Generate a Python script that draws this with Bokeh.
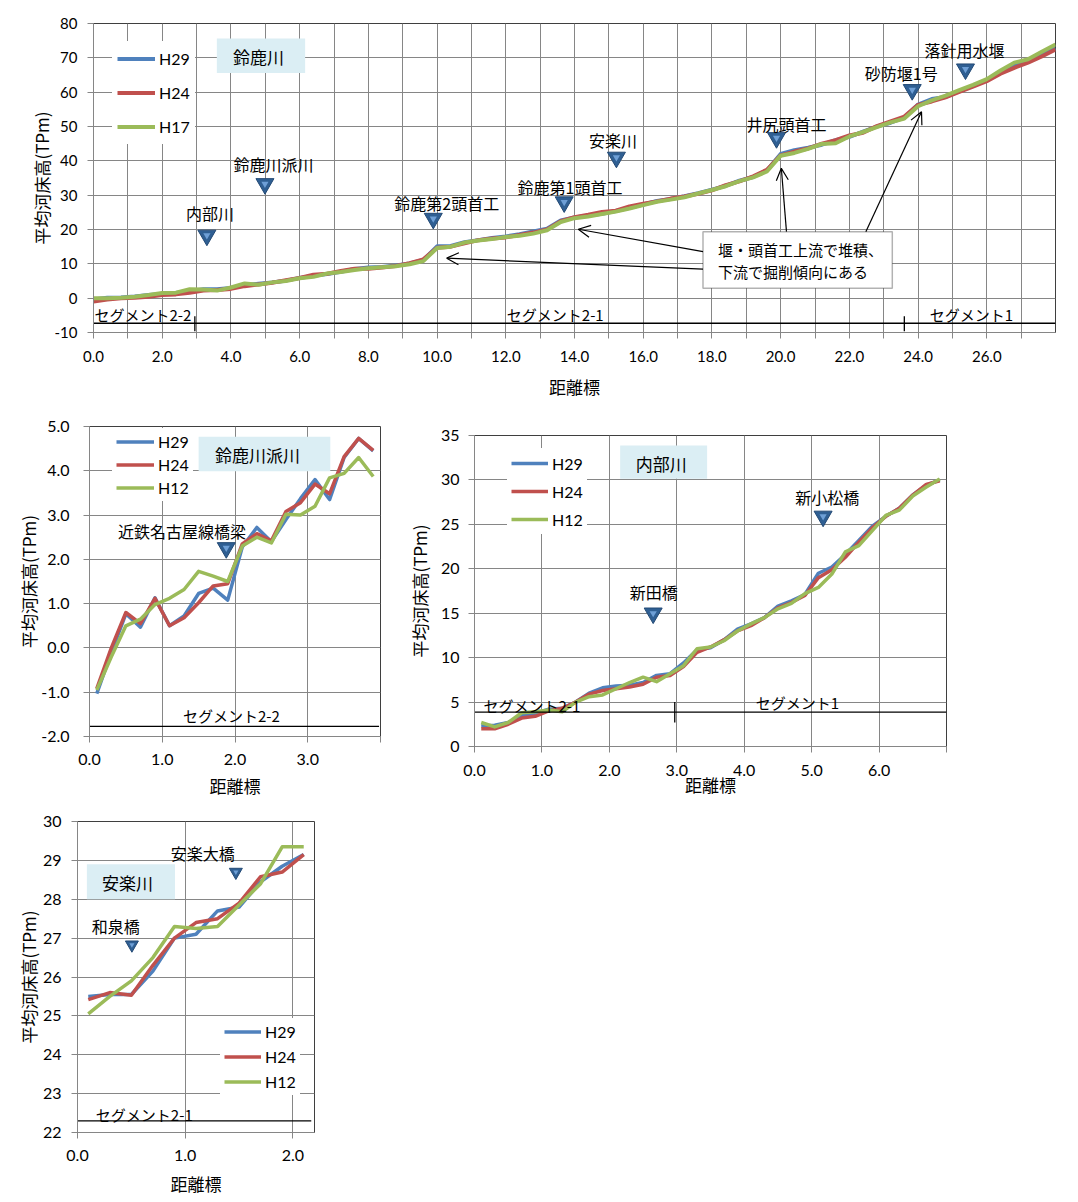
from bokeh.plotting import figure
from bokeh.models import (Range1d, FixedTicker, NumeralTickFormatter, Legend, LegendItem,
                          Label, BoxAnnotation, Arrow, OpenHead, Spacer)
from bokeh.layouts import column, row
from bokeh.embed import file_html
from bokeh.resources import INLINE

# ---------------- data ----------------
# 鈴鹿川 (main river)
suzuka_km = [
    0.0, 0.4, 0.8, 1.2, 1.6, 2.0, 2.4, 2.8, 3.2, 3.6,
    4.0, 4.4, 4.8, 5.2, 5.6, 6.0, 6.4, 6.8, 7.2, 7.6,
    8.0, 8.4, 8.8, 9.2, 9.6, 10.0, 10.4, 10.8, 11.2, 11.6,
    12.0, 12.4, 12.8, 13.2, 13.6, 14.0, 14.4, 14.8, 15.2, 15.6,
    16.0, 16.4, 16.8, 17.2, 17.6, 18.0, 18.4, 18.8, 19.2, 19.6,
    20.0, 20.4, 20.8, 21.2, 21.6, 22.0, 22.4, 22.8, 23.2, 23.6,
    24.0, 24.4, 24.8, 25.2, 25.6, 26.0, 26.4, 26.8, 27.2, 27.6,
    28.0]
suzuka_H29 = [
    -0.4, 0.1, 0.2, 0.5, 0.9, 1.2, 1.5, 2.0, 2.6, 2.6,
    3.0, 3.8, 4.2, 4.6, 5.1, 5.9, 6.5, 7.0, 7.7, 8.5,
    8.9, 9.1, 9.5, 10.1, 11.1, 15.1, 15.2, 16.3, 16.9, 17.5,
    18.0, 18.6, 19.4, 20.2, 22.6, 23.5, 24.1, 24.6, 25.4, 26.3,
    27.3, 28.3, 28.9, 29.7, 30.6, 31.6, 32.7, 34.2, 35.3, 37.2,
    42.0, 43.1, 43.8, 44.7, 46.0, 47.0, 48.5, 50.0, 51.1, 52.6,
    56.4, 58.0, 58.6, 60.3, 61.8, 63.5, 65.8, 67.6, 69.2, 70.9,
    72.8]
suzuka_H24 = [
    -1.0, -0.4, 0.0, 0.1, 0.4, 0.9, 1.1, 1.6, 2.2, 2.4,
    2.7, 3.5, 4.0, 4.5, 5.2, 5.9, 6.8, 7.1, 7.9, 8.6,
    8.6, 8.9, 9.4, 10.2, 11.3, 14.7, 15.0, 16.0, 16.9, 17.4,
    17.7, 18.4, 19.1, 20.0, 22.4, 23.6, 24.3, 25.1, 25.5, 26.7,
    27.5, 28.2, 29.0, 29.6, 30.4, 31.4, 32.9, 34.0, 35.5, 37.4,
    41.6, 42.7, 43.6, 45.0, 46.0, 47.4, 48.2, 50.1, 51.5, 52.9,
    56.3, 57.3, 58.5, 60.1, 61.6, 63.2, 65.4, 67.1, 68.6, 70.4,
    72.4]
suzuka_H17 = [
    0.0, 0.0, 0.1, 0.4, 0.9, 1.5, 1.6, 2.6, 2.5, 2.2,
    3.1, 4.3, 3.9, 4.6, 5.0, 5.8, 6.2, 7.2, 7.6, 8.2,
    8.7, 9.0, 9.3, 9.9, 10.8, 14.6, 15.0, 16.2, 16.8, 17.2,
    17.8, 18.2, 18.8, 19.8, 22.2, 23.3, 23.8, 24.5, 25.2, 26.1,
    27.1, 28.1, 28.7, 29.4, 30.5, 31.5, 32.6, 34.1, 35.2, 36.9,
    41.5, 42.3, 43.5, 44.9, 45.1, 47.1, 48.4, 49.8, 51.2, 52.3,
    55.9, 57.6, 59.0, 60.6, 62.1, 63.8, 66.3, 68.6, 69.6, 71.8,
    73.9]
suzuka_series = ["H29", "H24", "H17"]
suzuka_mark_names = ["内部川", "鈴鹿川派川", "鈴鹿第2頭首工", "鈴鹿第1頭首工",
                     "安楽川", "井尻頭首工", "砂防堰1号", "落針用水堰"]
suzuka_mark_km = [3.30, 4.99, 9.89, 13.70, 15.22, 19.88, 23.83, 25.38]
suzuka_mark_level = [18.3, 33.3, 23.2, 28.0, 41.0, 46.7, 60.7, 66.7]
suzuka_label_km = [3.39, 5.24, 10.28, 13.87, 15.12, 20.17, 23.51, 25.35]
suzuka_label_level = [24.7, 39.1, 27.6, 32.5, 46.1, 50.7, 65.5, 72.2]
suzuka_segments = ["セグメント2-2", "セグメント2-1", "セグメント1"]
suzuka_segment_km = [1.44, 13.44, 25.55]
suzuka_segment_bounds = [2.95, 23.6]

# 鈴鹿川派川
hasen_km = [0.1, 0.3, 0.5, 0.7, 0.9, 1.1, 1.3, 1.5, 1.7, 1.9,
            2.1, 2.3, 2.5, 2.7, 2.9, 3.1, 3.3, 3.5, 3.7, 3.9]
hasen_H29 = [-1.03, -0.10, 0.77, 0.47, 1.13, 0.50, 0.72, 1.23, 1.35, 1.08,
             2.28, 2.72, 2.40, 2.90, 3.37, 3.80, 3.35, 4.30, 4.73, 4.45]
hasen_H24 = [-0.92, 0.00, 0.80, 0.55, 1.12, 0.50, 0.68, 1.02, 1.40, 1.45,
             2.35, 2.58, 2.42, 3.08, 3.28, 3.70, 3.48, 4.32, 4.73, 4.46]
hasen_H12 = [-0.95, -0.20, 0.50, 0.65, 0.98, 1.12, 1.32, 1.73, 1.62, 1.50,
             2.30, 2.50, 2.37, 3.02, 3.00, 3.20, 3.84, 3.94, 4.30, 3.87]
hasen_mark_names = ["近鉄名古屋線橋梁"]
hasen_mark_km = [1.88]
hasen_mark_level = [2.26]

# 内部川
uchibe_km = [0.1, 0.3, 0.5, 0.7, 0.9, 1.1, 1.3, 1.5, 1.7, 1.9,
             2.1, 2.3, 2.5, 2.7, 2.9, 3.1, 3.3, 3.5, 3.7, 3.9,
             4.1, 4.3, 4.5, 4.7, 4.9, 5.1, 5.3, 5.5, 5.7, 5.9,
             6.1, 6.3, 6.5, 6.7, 6.9]
uchibe_H29 = [2.3, 2.4, 2.7, 3.5, 3.7, 4.2, 4.3, 5.0, 6.0, 6.6,
              6.8, 6.9, 7.2, 8.0, 8.2, 9.4, 10.9, 11.1, 12.0, 13.2,
              13.8, 14.5, 15.8, 16.4, 17.1, 19.5, 20.2, 21.6, 23.2, 24.8,
              25.9, 26.8, 28.3, 29.4, 30.0]
uchibe_H24 = [2.0, 2.0, 2.5, 3.2, 3.4, 4.0, 4.3, 5.0, 5.9, 6.3,
              6.5, 6.7, 7.0, 7.8, 8.0, 9.0, 10.6, 11.2, 12.0, 13.0,
              13.6, 14.5, 15.6, 16.2, 17.0, 19.0, 19.9, 21.3, 23.0, 24.6,
              25.9, 26.8, 28.3, 29.5, 29.9]
uchibe_H12 = [2.7, 2.2, 2.7, 3.8, 3.9, 4.1, 3.9, 5.0, 5.6, 5.8,
              6.5, 7.2, 7.8, 7.3, 8.2, 9.1, 11.0, 11.2, 11.9, 13.0,
              13.8, 14.5, 15.5, 16.1, 17.2, 17.9, 19.4, 21.9, 22.6, 24.3,
              26.0, 26.6, 28.2, 29.2, 30.1]
uchibe_mark_names = ["新田橋", "新小松橋"]
uchibe_mark_km = [2.65, 5.17]
uchibe_mark_level = [15.0, 25.9]
uchibe_label_km = [2.66, 5.23]
uchibe_label_level = [17.4, 28.1]

# 安楽川
anraku_km = [0.1, 0.3, 0.5, 0.7, 0.9, 1.1, 1.3, 1.5, 1.7, 1.9, 2.1]
anraku_H29 = [25.50, 25.55, 25.55, 26.15, 27.00, 27.10, 27.70, 27.80, 28.45, 28.85, 29.15]
anraku_H24 = [25.42, 25.60, 25.53, 26.30, 27.00, 27.40, 27.50, 27.90, 28.58, 28.70, 29.15]
anraku_H12 = [25.05, 25.50, 25.90, 26.50, 27.30, 27.25, 27.30, 27.85, 28.40, 29.35, 29.35]
anraku_mark_names = ["和泉橋", "安楽大橋"]
anraku_mark_km = [0.505, 1.47]
anraku_mark_level = [26.83, 28.70]
anraku_label_km = [0.356, 1.163]
anraku_label_level = [27.32, 29.20]

sub_series = ["H29", "H24", "H12"]

# ---------------- styles ----------------
BLUE, RED, GREEN = "#4F81BD", "#C0504D", "#9BBB59"
GRID = "#868686"
JP = "Noto Sans CJK JP"
NUM = "Lato"
BOXBLUE = "#DBEEF4"


def make_panel(frame_w, frame_h, borders, x_range, y_range, x_ticks, x_minor, x_grid,
               y_ticks, x_fmt, y_fmt, tick_px, label_px, xstand, ystand):
    bl, br, bt, bb = borders
    p = figure(frame_width=frame_w, frame_height=frame_h,
               x_range=Range1d(*x_range), y_range=Range1d(*y_range),
               output_backend="svg", toolbar_location=None,
               min_border_left=bl, min_border_right=br,
               min_border_top=bt, min_border_bottom=bb)
    p.outline_line_color = "#3F3F3F"
    p.outline_line_width = 1
    p.background_fill_color = "white"
    p.border_fill_color = "white"
    xa, ya = p.xaxis[0], p.yaxis[0]
    xa.ticker = FixedTicker(ticks=x_ticks, minor_ticks=x_minor)
    ya.ticker = FixedTicker(ticks=y_ticks)
    xa.formatter = NumeralTickFormatter(format=x_fmt)
    ya.formatter = NumeralTickFormatter(format=y_fmt)
    for ax in (xa, ya):
        ax.axis_line_color = GRID
        ax.major_tick_line_color = GRID
        ax.minor_tick_line_color = GRID
        ax.major_tick_in = 0
        ax.major_tick_out = 6
        ax.minor_tick_in = 0
        ax.minor_tick_out = 6
        ax.major_label_text_font = NUM
        ax.major_label_text_font_size = f"{tick_px}px"
        ax.major_label_text_color = "#000000"
        ax.axis_label_text_font = JP
        ax.axis_label_text_font_size = f"{label_px}px"
        ax.axis_label_text_font_style = "normal"
        ax.axis_label_text_color = "#000000"
    xa.major_label_standoff, xa.axis_label_standoff = xstand
    ya.major_label_standoff, ya.axis_label_standoff = ystand
    xa.axis_label = "距離標"
    ya.axis_label = "平均河床高(TPm)"
    p.xgrid.ticker = FixedTicker(ticks=x_grid)
    p.ygrid.ticker = FixedTicker(ticks=y_ticks)
    p.xgrid.grid_line_color = GRID
    p.ygrid.grid_line_color = GRID
    p.xgrid.grid_line_width = 1
    p.ygrid.grid_line_width = 1
    return p


def add_series(p, xs, ys_list, names, lw, legend_loc, glyph_w, item_h, spacing, pad, font_px):
    rs = []
    for ys, c in zip(ys_list, [BLUE, RED, GREEN]):
        rs.append(p.line(xs, ys, line_color=c, line_width=lw, line_join="round"))
    items = [LegendItem(label=n, renderers=[r]) for n, r in zip(names, rs)]
    lg = Legend(items=items, location=legend_loc, orientation="vertical",
                glyph_width=glyph_w, glyph_height=item_h, label_height=item_h,
                spacing=spacing, padding=pad, margin=0, label_standoff=4,
                label_text_font=NUM, label_text_font_size=f"{font_px}px",
                label_text_color="#000000",
                border_line_alpha=0, background_fill_color="white",
                background_fill_alpha=1.0)
    p.add_layout(lg)


def add_text(p, x, y, text, size, align="center"):
    p.add_layout(Label(x=x, y=y, text=text, text_font=JP, text_font_size=f"{size}px",
                       text_align=align, text_baseline="middle", text_color="#000000"))


def add_title_box(p, left, right, bottom, top, text, tx, ty, size):
    p.add_layout(BoxAnnotation(left=left, right=right, bottom=bottom, top=top,
                               fill_color=BOXBLUE, fill_alpha=1.0, line_alpha=0))
    add_text(p, tx, ty, text, size)


def add_marks(p, xs, ys, size):
    p.scatter(xs, ys, marker="inverted_triangle", size=size,
              fill_color="#2F5F93", line_color="#244A75", line_width=1)
    p.scatter(xs, ys, marker="inverted_triangle", size=size * 0.4,
              fill_color="#6E9FD6", line_alpha=0)


# ---------------- 鈴鹿川 ----------------
p1 = make_panel(962, 309, (93, 15, 23, 73), (0, 28), (-10, 80),
                list(range(0, 27, 2)), list(range(1, 29, 2)), list(range(0, 29)),
                list(range(-10, 81, 10)), "0.0", "0", 15, 17, (12, 9), (10, -2))
add_series(p1, suzuka_km, [suzuka_H29, suzuka_H24, suzuka_H17], suzuka_series, 4,
           (19, 188), 38, 25, 9, 5, 16)
add_title_box(p1, 3.59, 6.16, 65.6, 75.6, "鈴鹿川", 4.8, 70.5, 17)
add_marks(p1, suzuka_mark_km, suzuka_mark_level, 18)
for n, x, y in zip(suzuka_mark_names, suzuka_label_km, suzuka_label_level):
    add_text(p1, x, y, n, 16)
p1.segment(x0=[0], y0=[-7.3], x1=[28], y1=[-7.3], line_color="black", line_width=1.3)
p1.segment(x0=suzuka_segment_bounds, y0=[-5.3, -5.3], x1=suzuka_segment_bounds,
           y1=[-9.6, -9.6], line_color="black", line_width=1.3)
for n, x in zip(suzuka_segments, suzuka_segment_km):
    add_text(p1, x, -4.85, n, 15)
# callout
p1.add_layout(BoxAnnotation(left=17.74, right=23.25, bottom=2.92, top=19.38,
                            fill_color="white", fill_alpha=1.0,
                            line_color="#000000", line_width=1.5))
add_text(p1, 18.18, 14.06, "堰・頭首工上流で堆積、", 15, "left")
add_text(p1, 18.18, 7.75, "下流で掘削傾向にある", 15, "left")
for xs, ys, xe, ye in [(17.74, 13.57, 14.11, 20.08), (17.74, 8.45, 10.28, 11.65),
                       (20.17, 19.38, 20.02, 37.82), (22.48, 19.38, 24.10, 54.29)]:
    p1.add_layout(Arrow(end=OpenHead(size=12, line_width=1.2, line_color="#000000"),
                        x_start=xs, y_start=ys, x_end=xe, y_end=ye,
                        line_color="#000000", line_width=1.2))

# ---------------- 鈴鹿川派川 ----------------
p2 = make_panel(291, 310, (89, 15, 21, 69), (0, 4), (-2, 5),
                [0, 1, 2, 3], [4], [0, 1, 2, 3, 4],
                list(range(-2, 6)), "0.0", "0.0", 16, 17, (11, 5), (14, -3))
add_series(p2, hasen_km, [hasen_H29, hasen_H24, hasen_H12], sub_series, 3.5,
           (23, 235), 38, 19, 4, 4, 16)
add_title_box(p2, 1.50, 3.31, 3.99, 4.77, "鈴鹿川派川", 2.31, 4.36, 17)
add_marks(p2, hasen_mark_km, hasen_mark_level, 18)
add_text(p2, 1.27, 2.65, hasen_mark_names[0], 16)
p2.segment(x0=[0], y0=[-1.77], x1=[3.98], y1=[-1.77], line_color="black", line_width=1.3)
add_text(p2, 1.95, -1.52, "セグメント2-2", 15)

# ---------------- 内部川 ----------------
p3 = make_panel(472, 311, (79, 124, 21, 59), (0, 7), (0, 35),
                [0, 1, 2, 3, 4, 5, 6], [7], [0, 1, 2, 3, 4, 5, 6, 7],
                list(range(0, 36, 5)), "0.0", "0", 16, 17, (12, -7), (9, 6))
add_series(p3, uchibe_km, [uchibe_H29, uchibe_H24, uchibe_H12], sub_series, 3.5,
           (33, 212), 37, 22, 6, 4, 16)
add_title_box(p3, 2.16, 3.45, 30.13, 33.87, "内部川", 2.77, 31.9, 17)
add_marks(p3, uchibe_mark_km, uchibe_mark_level, 18)
for n, x, y in zip(uchibe_mark_names, uchibe_label_km, uchibe_label_level):
    add_text(p3, x, y, n, 16)
p3.segment(x0=[0], y0=[3.86], x1=[7], y1=[3.86], line_color="black", line_width=1.3)
p3.segment(x0=[2.97], y0=[2.7], x1=[2.97], y1=[5.0], line_color="black", line_width=1.3)
add_text(p3, 0.85, 4.61, "セグメント2-1", 15)
add_text(p3, 4.79, 4.98, "セグメント1", 15)

# ---------------- 安楽川 ----------------
p4 = make_panel(237, 311, (77, 26, 16, 68), (0, 2.2), (22, 30),
                [0, 1, 2], [], [0, 1, 2],
                list(range(22, 31)), "0.0", "0", 16, 17, (11, 7), (10, -1))
add_series(p4, anraku_km, [anraku_H29, anraku_H24, anraku_H12], sub_series, 3.5,
           (143, 37), 37, 17, 6, 4, 16)
add_title_box(p4, 0.087, 0.905, 28.0, 28.9, "安楽川", 0.465, 28.42, 17)
add_marks(p4, anraku_mark_km, anraku_mark_level, 13)
for n, x, y in zip(anraku_mark_names, anraku_label_km, anraku_label_level):
    add_text(p4, x, y, n, 16)
p4.segment(x0=[0], y0=[22.3], x1=[2.17], y1=[22.3], line_color="black", line_width=1.3)
add_text(p4, 0.62, 22.47, "セグメント2-1", 15)

layout = column(p1, row(p2, column(Spacer(width=675, height=9), p3)), row(p4))
open("out.html", "w").write(file_html(layout, INLINE))
